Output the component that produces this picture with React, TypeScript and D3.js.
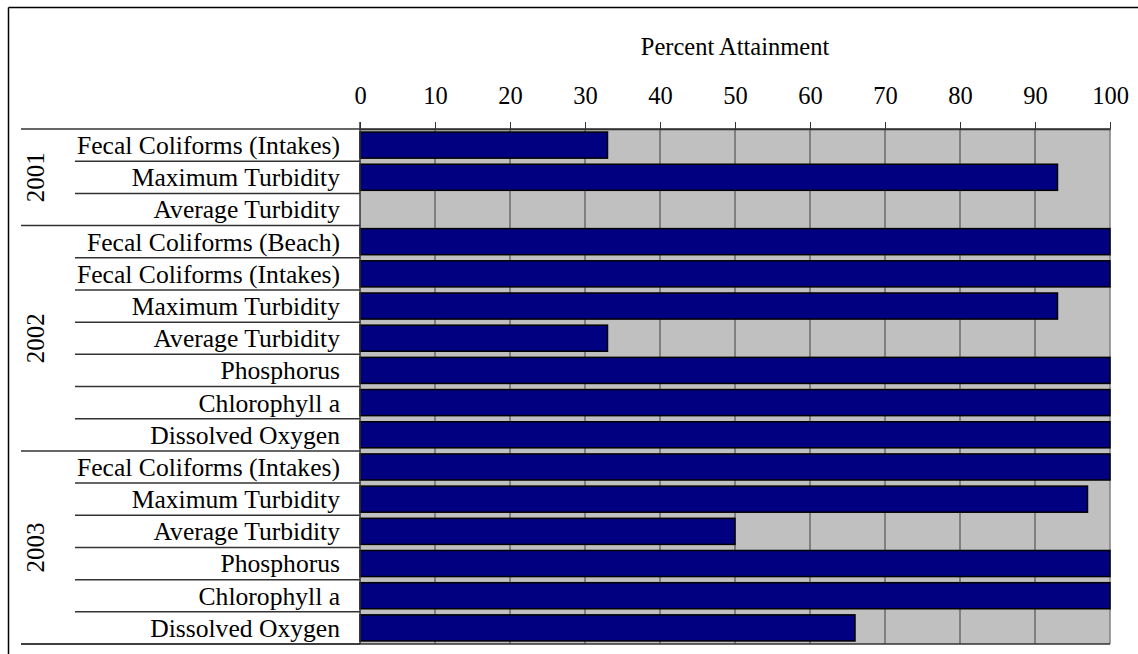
import React, { useEffect, useRef } from 'react'
import * as d3 from 'd3'

const years = ['2001', '2002', '2003']
const measures2001 = ['Fecal Coliforms (Intakes)', 'Maximum Turbidity', 'Average Turbidity']
const values2001 = [33, 93, 0]
const measures2002 = ['Fecal Coliforms (Beach)', 'Fecal Coliforms (Intakes)', 'Maximum Turbidity', 'Average Turbidity', 'Phosphorus', 'Chlorophyll a', 'Dissolved Oxygen']
const values2002 = [100, 100, 93, 33, 100, 100, 100]
const measures2003 = ['Fecal Coliforms (Intakes)', 'Maximum Turbidity', 'Average Turbidity', 'Phosphorus', 'Chlorophyll a', 'Dissolved Oxygen']
const values2003 = [100, 97, 50, 100, 100, 66]
const xTicks = [0, 10, 20, 30, 40, 50, 60, 70, 80, 90, 100]

export default function App() {
  const ref = useRef<SVGSVGElement | null>(null)

  useEffect(() => {
    if (!ref.current) return
    const svg = d3.select(ref.current)
    svg.selectAll('*').remove()

    const width = 1138, height = 654
    const left = 360, right = 1110, top = 129, bottom = 644
    const font = '"Liberation Serif", "Times New Roman", serif'

    const groups = [
      { year: years[0], measures: measures2001, values: values2001 },
      { year: years[1], measures: measures2002, values: values2002 },
      { year: years[2], measures: measures2003, values: values2003 },
    ]
    const rows = groups.flatMap((g, gi) => g.measures.map((m, i) => ({ key: `${gi}-${i}`, label: m, value: g.values[i], group: gi })))

    const x = d3.scaleLinear().domain([0, 100]).range([left, right])
    const y = d3.scaleBand().domain(rows.map(r => r.key)).range([top, bottom]).paddingInner(0.19).paddingOuter(0.095)
    const step = y.step()

    svg.attr('width', width).attr('height', height)

    // outer frame (only top and left edges are inside the picture)
    svg.append('line').attr('x1', 8.5).attr('x2', width).attr('y1', 7.5).attr('y2', 7.5).attr('stroke', '#000').attr('stroke-width', 1.5)
    svg.append('line').attr('x1', 8.5).attr('x2', 8.5).attr('y1', 7.5).attr('y2', height).attr('stroke', '#000').attr('stroke-width', 1.5)

    // plot background
    svg.append('rect').attr('x', left).attr('y', top).attr('width', right - left).attr('height', bottom - top).attr('fill', '#c0c0c0')

    // grid lines
    svg.append('g').selectAll('line').data(xTicks.slice(1, -1)).enter().append('line')
      .attr('x1', d => x(d)).attr('x2', d => x(d)).attr('y1', top).attr('y2', bottom)
      .attr('stroke', '#404040').attr('stroke-width', 1)

    // right border of plot
    svg.append('line').attr('x1', right).attr('x2', right).attr('y1', top).attr('y2', bottom).attr('stroke', '#808080').attr('stroke-width', 1.5)

    // bars
    svg.append('g').selectAll('rect').data(rows.filter(r => r.value > 0)).enter().append('rect')
      .attr('x', left)
      .attr('y', d => y(d.key)!)
      .attr('width', d => x(d.value) - left)
      .attr('height', y.bandwidth())
      .attr('fill', '#000080')
      .attr('stroke', '#000')
      .attr('stroke-width', 1.5)

    // top axis
    const axis = svg.append('g').attr('transform', `translate(0,${top})`)
      .call(d3.axisTop(x).tickValues(xTicks).tickSize(7).tickPadding(18).tickSizeOuter(0))
    axis.select('.domain').attr('stroke', '#333').attr('stroke-width', 1.5)
    axis.selectAll('.tick line').attr('stroke', '#333')
    axis.selectAll('.tick text').attr('font-family', font).attr('font-size', 24.5).attr('fill', '#000')

    svg.append('text').attr('x', (left + right) / 2).attr('y', 55).attr('text-anchor', 'middle')
      .attr('font-family', font).attr('font-size', 24.5).text('Percent Attainment')

    // row separators on the category axis
    const seps = svg.append('g')
    rows.forEach((r, i) => {
      const yy = top + step * (i + 1)
      const isGroupEnd = i === rows.length - 1 || rows[i + 1].group !== r.group
      seps.append('line').attr('x1', isGroupEnd ? 21 : 75).attr('x2', left).attr('y1', yy).attr('y2', yy)
        .attr('stroke', '#333').attr('stroke-width', 1.5)
    })
    seps.append('line').attr('x1', 21).attr('x2', right).attr('y1', top).attr('y2', top).attr('stroke', '#333').attr('stroke-width', 1.5)
    seps.append('line').attr('x1', 21).attr('x2', right).attr('y1', bottom).attr('y2', bottom).attr('stroke', '#333').attr('stroke-width', 1.5)
    seps.append('line').attr('x1', left).attr('x2', left).attr('y1', top - 7).attr('y2', bottom).attr('stroke', '#333').attr('stroke-width', 1.5)

    // category labels
    svg.append('g').selectAll('text').data(rows).enter().append('text')
      .attr('x', 340)
      .attr('y', d => y(d.key)! + y.bandwidth() / 2)
      .attr('dy', '0.35em')
      .attr('text-anchor', 'end')
      .attr('font-family', font).attr('font-size', 25.6)
      .text(d => d.label)

    // year labels
    let start = 0
    groups.forEach(g => {
      const cy = top + step * (start + g.measures.length / 2)
      svg.append('text').attr('transform', `translate(44,${cy}) rotate(-90)`)
        .attr('text-anchor', 'middle')
        .attr('font-family', font).attr('font-size', 25)
        .text(g.year)
      start += g.measures.length
    })
  }, [])

  return <svg ref={ref} style={{ position: 'absolute', left: 0, top: 0, display: 'block' }} />
}
